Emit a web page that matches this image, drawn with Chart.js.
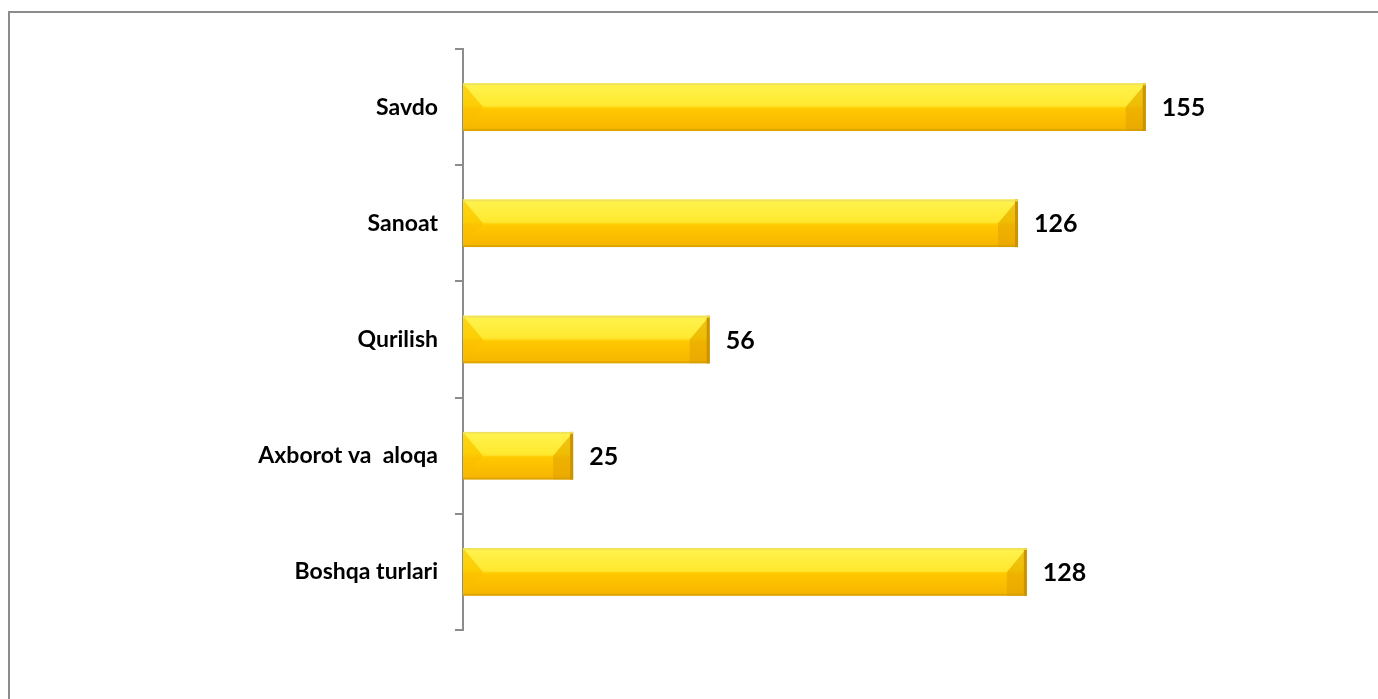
<!DOCTYPE html>
<html>
<head>
<meta charset="utf-8">
<script src="https://cdn.jsdelivr.net/npm/chart.js@4.4.1/dist/chart.umd.min.js"></script>
<style>
    html, body { margin: 0; padding: 0; background: #fff; overflow: hidden; }
    .frame {
        position: absolute; left: 8px; top: 11px; width: 1500px; height: 800px;
        border: 2px solid #8c8c8c; box-sizing: border-box;
    }
    .wrap { position: absolute; left: 0; top: 0; width: 1378px; height: 699px; }
</style>
</head>
<body>
<div class="frame"></div>
<div class="wrap"><canvas id="barChart"></canvas></div>
<script>
const categories = ['Savdo', 'Sanoat', 'Qurilish', 'Axborot va  aloqa', 'Boshqa turlari'];
const values = [155, 126, 56, 25, 128];
const xMax = 200;

const BAR_PCT = 0.41;

const barThickness = (chart) => {
    const area = chart.chartArea;
    if (!area) return 0;
    return area.height / categories.length * BAR_PCT;
};

const bevelPlugin = {
    id: 'bevel',
    afterDatasetsDraw(chart) {
        const ctx = chart.ctx;
        const meta = chart.getDatasetMeta(0);
        meta.data.forEach((bar, i) => {
            const left = bar.base;
            const right = bar.x;
            const h = bar.height;
            const top = bar.y - h / 2;
            const bot = bar.y + h / 2;
            const b = Math.min(20, (right - left) / 3);
            ctx.save();
            // left bevel
            ctx.fillStyle = 'rgba(250, 190, 0, 0.55)';
            ctx.beginPath();
            ctx.moveTo(left, top);
            ctx.lineTo(left + b, bar.y);
            ctx.lineTo(left, bot);
            ctx.closePath();
            ctx.fill();
            // right bevel
            ctx.fillStyle = 'rgba(225, 160, 0, 0.55)';
            ctx.beginPath();
            ctx.moveTo(right, top);
            ctx.lineTo(right - b, bar.y);
            ctx.lineTo(right - b, bot);
            ctx.lineTo(right, bot);
            ctx.closePath();
            ctx.fill();
            ctx.fillStyle = 'rgba(255, 245, 120, 0.35)';
            ctx.beginPath();
            ctx.moveTo(right, top);
            ctx.lineTo(right - b, bar.y);
            ctx.lineTo(left + b, bar.y);
            ctx.lineTo(left, top);
            ctx.closePath();
            ctx.fill();
            // edges
            ctx.fillStyle = '#c99400';
            ctx.fillRect(right - 3, top, 3, h);
            ctx.fillStyle = 'rgba(200, 150, 0, 0.5)';
            ctx.fillRect(left, bot - 2, right - left, 2);
            ctx.fillStyle = 'rgba(240, 225, 90, 0.9)';
            ctx.fillRect(left, top, right - left, 2);
            // value label
            ctx.fillStyle = '#000';
            ctx.font = 'bold 25px Lato, "Open Sans", sans-serif';
            ctx.textAlign = 'left';
            ctx.textBaseline = 'middle';
            ctx.fillText(String(values[i]), right + 16, bar.y + 1);
            ctx.restore();
        });
    }
};

document.addEventListener('DOMContentLoaded', () => {
    const canvas = document.getElementById('barChart');
    new Chart(canvas.getContext('2d'), {
        type: 'bar',
        data: {
            labels: categories,
            datasets: [{
                data: values,
                backgroundColor: (c) => {
                    const chart = c.chart;
                    if (!chart.chartArea) return '#ffd200';
                    const cy = chart.scales.y.getPixelForValue(c.dataIndex);
                    const h = barThickness(chart);
                    const g = chart.ctx.createLinearGradient(0, cy - h / 2, 0, cy + h / 2);
                    g.addColorStop(0, '#fff23a');
                    g.addColorStop(0.45, '#ffe20a');
                    g.addColorStop(0.55, '#ffc700');
                    g.addColorStop(1, '#f6b400');
                    return g;
                },
                borderWidth: 0,
                barPercentage: BAR_PCT,
                categoryPercentage: 1
            }]
        },
        options: {
            indexAxis: 'y',
            responsive: true,
            maintainAspectRatio: false,
            animation: false,
            layout: { padding: { left: 0, right: 34, top: 49, bottom: 69 } },
            plugins: { legend: { display: false }, tooltip: { enabled: false } },
            scales: {
                x: { display: false, min: 0, max: xMax },
                y: {
                    afterFit: (scale) => { scale.width = 463; },
                    grid: {
                        drawOnChartArea: false,
                        offset: true,
                        color: '#8c8c8c',
                        lineWidth: 2,
                        tickLength: 8
                    },
                    border: { color: '#8c8c8c', width: 2 },
                    ticks: {
                        color: '#000',
                        padding: 17,
                        font: { family: 'Lato', size: 23, weight: 'bold' }
                    }
                }
            }
        },
        plugins: [bevelPlugin]
    });
});
</script>
</body>
</html>
